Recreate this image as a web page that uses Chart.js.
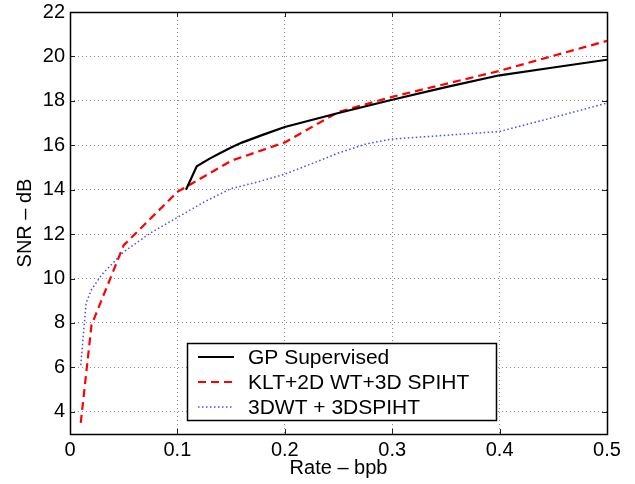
<!DOCTYPE html>
<html><head><meta charset="utf-8">
<script src="https://cdn.jsdelivr.net/npm/chart.js@4"></script>
<style>html,body{margin:0;padding:0;background:#fff}</style>
</head><body>
<canvas id="c" width="635" height="484"></canvas>
<script>
// ---- data ----
const gpRate = [0.108, 0.118, 0.13, 0.14, 0.15, 0.16, 0.18, 0.2, 0.25, 0.3, 0.35, 0.4, 0.45, 0.5];
const gpSnr  = [14.0, 15.05, 15.4, 15.65, 15.9, 16.12, 16.48, 16.82, 17.45, 18.05, 18.62, 19.15, 19.5, 19.85];

const kltRate = [0.01, 0.02, 0.05, 0.1, 0.15, 0.2, 0.25, 0.3, 0.4, 0.5];
const kltSnr  = [3.5, 7.9, 11.5, 13.9, 15.3, 16.13, 17.5, 18.18, 19.35, 20.7];

const dwtRate = [0.01, 0.015, 0.02, 0.03, 0.04, 0.05, 0.075, 0.1, 0.125, 0.15, 0.175, 0.2, 0.225, 0.25, 0.275, 0.3, 0.35, 0.4, 0.45, 0.5];
const dwtSnr  = [6.1, 8.9, 9.5, 10.2, 10.7, 11.2, 12.05, 12.75, 13.45, 14.05, 14.35, 14.7, 15.17, 15.65, 16.05, 16.28, 16.45, 16.62, 17.25, 17.9];

const seriesNames = ['GP Supervised', 'KLT+2D WT+3D SPIHT', '3DWT + 3DSPIHT'];
const xTicks = [0, 0.1, 0.2, 0.3, 0.4, 0.5];
const xTickLabels = ['0', '0.1', '0.2', '0.3', '0.4', '0.5'];
const yTicks = [4, 6, 8, 10, 12, 14, 16, 18, 20, 22];
const yTickLabels = ['4', '6', '8', '10', '12', '14', '16', '18', '20', '22'];
const xTitle = 'Rate \u2013 bpb';
const yTitle = 'SNR \u2013 dB';

const toXY = (xs, ys) => xs.map((x, i) => ({x: x, y: ys[i]}));

Chart.defaults.font.family = "'Liberation Sans', Arial, Helvetica, sans-serif";
Chart.defaults.font.size = 20;
Chart.defaults.color = '#000';

const LEGEND_FONT = "21px 'Liberation Sans', Arial, Helvetica, sans-serif";

const frame = {
  id: 'frame',
  afterDraw(chart) {
    const {ctx, chartArea: a, scales: {x, y}} = chart;
    ctx.save();
    // inward ticks
    ctx.strokeStyle = '#222';
    ctx.lineWidth = 1;
    ctx.beginPath();
    xTicks.forEach(v => {
      const px = Math.round(x.getPixelForValue(v)) + 0.5;
      ctx.moveTo(px, a.bottom); ctx.lineTo(px, a.bottom - 5);
      ctx.moveTo(px, a.top); ctx.lineTo(px, a.top + 5);
    });
    yTicks.forEach(v => {
      const py = Math.round(y.getPixelForValue(v)) + 0.5;
      ctx.moveTo(a.left, py); ctx.lineTo(a.left + 5, py);
      ctx.moveTo(a.right, py); ctx.lineTo(a.right - 5, py);
    });
    ctx.stroke();
    // box
    ctx.strokeStyle = '#000';
    ctx.lineWidth = 1.5;
    ctx.strokeRect(Math.round(a.left) + 0.5, Math.round(a.top) + 0.5,
                   Math.round(a.right - a.left), Math.round(a.bottom - a.top));
    // legend
    const lx = a.left + 117, ly = a.top + 331, lw = 309, lh = 77;
    ctx.fillStyle = '#fff';
    ctx.fillRect(lx, ly, lw, lh);
    ctx.lineWidth = 1.5;
    ctx.strokeStyle = '#000';
    ctx.strokeRect(lx + 0.5, ly + 0.5, lw, lh);
    ctx.font = LEGEND_FONT;
    ctx.textBaseline = 'middle';
    ctx.textAlign = 'left';
    chart.data.datasets.forEach((ds, i) => {
      const cy = ly + 14 + i * 25;
      ctx.save();
      ctx.strokeStyle = ds.borderColor;
      ctx.lineWidth = ds.borderWidth;
      ctx.setLineDash(ds.borderDash || []);
      ctx.beginPath();
      ctx.moveTo(lx + 11, cy); ctx.lineTo(lx + 47, cy);
      ctx.stroke();
      ctx.restore();
      ctx.fillStyle = '#000';
      ctx.fillText(ds.label, lx + 61, cy + 1);
    });
    ctx.restore();
  }
};

new Chart(document.getElementById('c'), {
  type: 'line',
  data: {
    datasets: [
      {label: seriesNames[0], data: toXY(gpRate, gpSnr), borderColor: '#000000', borderWidth: 2.2, pointRadius: 0, tension: 0, fill: false},
      {label: seriesNames[1], data: toXY(kltRate, kltSnr), borderColor: '#ff0000', borderWidth: 2.2, borderDash: [8, 5], pointRadius: 0, tension: 0, fill: false},
      {label: seriesNames[2], data: toXY(dwtRate, dwtSnr), borderColor: '#4a4aff', borderWidth: 1.5, borderDash: [1.5, 2.5], pointRadius: 0, tension: 0, fill: false}
    ]
  },
  options: {
    responsive: false,
    animation: false,
    devicePixelRatio: 1,
    layout: {padding: {top: 12, right: 28, left: 0, bottom: 0}},
    plugins: {legend: {display: false}, tooltip: {enabled: false}},
    scales: {
      x: {
        type: 'linear', min: 0, max: 0.5,
        afterBuildTicks: s => { s.ticks = xTicks.map(v => ({value: v})); },
        afterFit: s => { s.height = 50; s.paddingLeft = 0; s.paddingRight = 0; },
        ticks: {padding: 4, maxRotation: 0, callback: (v) => xTickLabels[xTicks.indexOf(v)] ?? ''},
        grid: {color: '#8c8c8c', lineWidth: 1, drawTicks: false},
        border: {display: false, dash: [1, 3]},
        title: {display: true, text: xTitle, padding: {top: 0, bottom: 4}}
      },
      y: {
        type: 'linear', min: 3, max: 22,
        afterBuildTicks: s => { s.ticks = yTicks.map(v => ({value: v})); },
        afterFit: s => { s.width = 70; s.paddingTop = 0; s.paddingBottom = 0; },
        ticks: {padding: 5, callback: (v) => yTickLabels[yTicks.indexOf(v)] ?? ''},
        grid: {color: '#8c8c8c', lineWidth: 1, drawTicks: false},
        border: {display: false, dash: [1, 3]},
        title: {display: true, text: yTitle, padding: {top: 13, bottom: 0}}
      }
    }
  },
  plugins: [frame]
});
</script>
</body></html>
